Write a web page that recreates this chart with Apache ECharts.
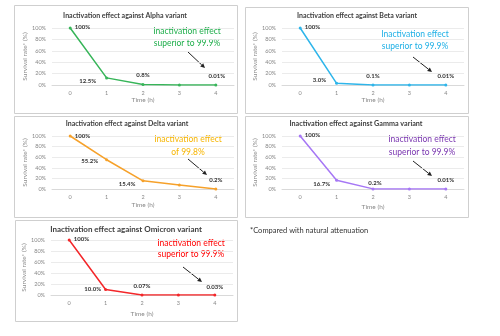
<!DOCTYPE html>
<html><head><meta charset="utf-8">
<script src="https://cdn.jsdelivr.net/npm/echarts@6/dist/echarts.min.js"></script>
<style>html,body{margin:0;padding:0;background:#fff}#c{width:500px;height:336px}</style>
</head><body><div id="c"></div>
<script>
// ---- data ----
var hours = ['0', '1', '2', '3', '4'];
var yTicks = [0, 20, 40, 60, 80, 100];
var titles = ['Inactivation effect against Alpha variant','Inactivation effect against Beta variant','Inactivation effect against Delta variant','Inactivation effect against Gamma variant','Inactivation effect against Omicron variant'];
var alphaValues = [100, 12.5, 0.8, 0.1, 0.01];
var betaValues = [100, 3.0, 0.1, 0.05, 0.01];
var deltaValues = [100, 55.2, 15.4, 7.5, 0.2];
var gammaValues = [100, 16.7, 0.2, 0.05, 0.01];
var omicronValues = [100, 10.0, 0.07, 0.05, 0.03];
var alphaLabels = ['100%', '12.5%', '0.8%', '', '0.01%'];
var betaLabels = ['100%', '3.0%', '0.1%', '', '0.01%'];
var deltaLabels = ['100%', '55.2%', '15.4%', '', '0.2%'];
var gammaLabels = ['100%', '16.7%', '0.2%', '', '0.01%'];
var omicronLabels = ['100%', '10.0%', '0.07%', '', '0.03%'];
var notes = [['Inactivation effect','superior to 99.9%'],['Inactivation effect','superior to 99.9%'],['Inactivation effect','of 99.8%'],['Inactivation effect','superior to 99.9%'],['Inactivation effect','superior to 99.9%']];
var footnote = '*Compared with natural attenuation';
var yName = 'Survival rate* (%)';
var xName = 'Time (h)';

// ---- layout / style ----
var FONT = 'Lato, "Open Sans", sans-serif';
var panels = [
  {box:[14,5,223,108], grid:{left:52,top:28,width:182,height:57}, titleY:16, titleX:125, titleSize:7, color:'#37b559', noteColor:'#1fae4b', note:[187,31,43], arrow:[188,52,205,68], xNameGap:11},
  {box:[245,7,223,106], grid:{left:282,top:28,width:182,height:57}, titleY:16, titleX:357, titleSize:7, color:'#2eb5ea', noteColor:'#1fb0e6', note:[415,34,46], arrow:[413,57,432,72], xNameGap:11},
  {box:[14,116,223,101], grid:{left:52,top:136,width:182,height:53}, titleY:124, titleX:127, titleSize:7, color:'#f6a12a', noteColor:'#f7b500', note:[188,139,152], arrow:[188,159,207,175], xNameGap:12},
  {box:[245,116,223,101], grid:{left:282,top:136,width:182,height:53}, titleY:124, titleX:356, titleSize:7.2, color:'#a677f5', noteColor:'#7a36b0', note:[422,139,152], arrow:[413,161,432,176], xNameGap:14},
  {box:[15,220,222,101], grid:{left:51,top:240,width:182,height:55}, titleY:229, titleX:126, titleSize:8, color:'#f3272a', noteColor:'#ff0000', note:[191,243,254], arrow:[183,267,202,282], xNameGap:15}
];
var seriesValues = [alphaValues, betaValues, deltaValues, gammaValues, omicronValues];
var seriesLabels = [alphaLabels, betaLabels, deltaLabels, gammaLabels, omicronLabels];
// label placement per point (style only)
var labelPos = [
  [{p:'right',d:3,o:[0,-1]},{p:'left',d:9,o:[0,3]},{p:'top',d:5,o:[0,0]},null,{p:'top',d:4,o:[1,0]}],
  [{p:'right',d:3,o:[0,-1]},{p:'left',d:9,o:[0,-3]},{p:'top',d:4,o:[0,0]},null,{p:'top',d:4,o:[0,0]}],
  [{p:'right',d:3,o:[0,0]},{p:'left',d:7,o:[0,1]},{p:'left',d:6,o:[0,3]},null,{p:'top',d:4,o:[0,0]}],
  [{p:'right',d:3,o:[0,-1]},{p:'left',d:5,o:[0,4]},{p:'top',d:1,o:[2,0]},null,{p:'top',d:4,o:[0,0]}],
  [{p:'right',d:3,o:[0,-1]},{p:'left',d:3,o:[0,0]},{p:'top',d:4,o:[0,0]},null,{p:'top',d:3,o:[0,0]}]
];

var grids = [], xAxes = [], yAxes = [], series = [], graphics = [];
panels.forEach(function (pn, i) {
  grids.push(Object.assign({containLabel:false}, pn.grid));
  xAxes.push({type:'category', gridIndex:i, data:hours, boundaryGap:true,
    name:xName, nameLocation:'middle', nameGap:pn.xNameGap,
    nameTextStyle:{fontSize:6.5, color:'#888', fontFamily:FONT},
    axisLine:{lineStyle:{color:'#d9d9d9', width:1}}, axisTick:{show:false},
    axisLabel:{fontSize:5.5, color:'#888', margin:5, fontFamily:FONT}});
  yAxes.push({type:'value', gridIndex:i, min:yTicks[0], max:yTicks[yTicks.length-1], interval:yTicks[1]-yTicks[0],
    name:yName, nameLocation:'middle', nameGap:24,
    nameTextStyle:{fontSize:6.5, color:'#888', fontFamily:FONT},
    axisLine:{show:false}, axisTick:{show:false},
    splitLine:{lineStyle:{color:'#e6e6e6', width:0.8}},
    axisLabel:{fontSize:5.5, color:'#888', margin:6, formatter:'{value}%', fontFamily:FONT}});
  var lbls = seriesLabels[i];
  series.push({type:'line', xAxisIndex:i, yAxisIndex:i,
    data: seriesValues[i].map(function (v, k) {
      var lp = labelPos[i][k];
      return {value:v, label: lp ? {show:true, position:lp.p, distance:lp.d, offset:lp.o} : {show:false}};
    }),
    symbol:'circle', symbolSize:3, itemStyle:{color:pn.color},
    lineStyle:{color:pn.color, width:1.5}, animation:false,
    label:{show:true, fontSize:6, fontWeight:'bold', color:'#333', fontFamily:FONT,
      formatter:function (p) { return lbls[p.dataIndex]; }}});
  var b = pn.box;
  graphics.push({type:'rect', shape:{x:b[0]+0.5, y:b[1]+0.5, width:b[2], height:b[3]}, style:{fill:'none', stroke:'#cfcfcf', lineWidth:1}, z:-1});
  graphics.push({type:'text', x:pn.titleX, y:pn.titleY, style:{text:titles[i], fontSize:pn.titleSize, fontWeight:'bold', fill:'#404040', fontFamily:FONT, textAlign:'center', textVerticalAlign:'middle'}});
  graphics.push({type:'text', x:pn.note[0], y:pn.note[1], style:{text:notes[i][0], fontSize:8.5, fill:pn.noteColor, fontFamily:FONT, textAlign:'center', textVerticalAlign:'middle'}});
  graphics.push({type:'text', x:pn.note[0], y:pn.note[2], style:{text:notes[i][1], fontSize:8.5, fill:pn.noteColor, fontFamily:FONT, textAlign:'center', textVerticalAlign:'middle'}});
  var a = pn.arrow, dx = a[2]-a[0], dy = a[3]-a[1], L = Math.sqrt(dx*dx+dy*dy), ux = dx/L, uy = dy/L;
  var hl = 4.5, hw = 2.2;
  var bx = a[2]-ux*hl, by = a[3]-uy*hl;
  graphics.push({type:'line', shape:{x1:a[0], y1:a[1], x2:bx, y2:by}, style:{stroke:'#222', lineWidth:1}});
  graphics.push({type:'polygon', shape:{points:[[a[2],a[3]],[bx-uy*hw, by+ux*hw],[bx+uy*hw, by-ux*hw]]}, style:{fill:'#222'}});
});
graphics.push({type:'text', x:250, y:231, style:{text:footnote, fontSize:7.5, fill:'#333', fontFamily:FONT, textVerticalAlign:'middle'}});

var chart = echarts.init(document.getElementById('c'), null, {renderer:'canvas'});
chart.setOption({animation:false, backgroundColor:'#fff', grid:grids, xAxis:xAxes, yAxis:yAxes, series:series, graphic:graphics});
</script></body></html>
